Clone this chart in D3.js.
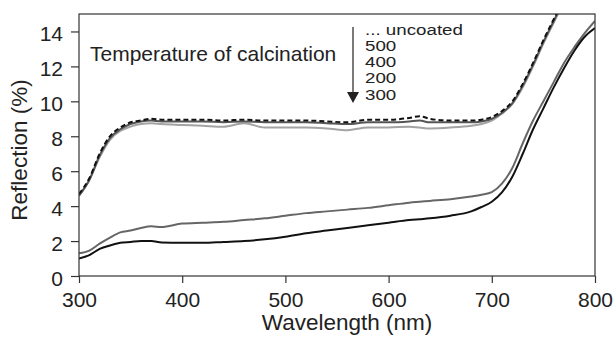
<!DOCTYPE html>
<html>
<head>
<meta charset="utf-8">
<script src="https://cdn.jsdelivr.net/npm/d3@7"></script>
<style>
  body { margin: 0; background: #fff; }
  svg { font-family: Arial, "Liberation Sans", sans-serif; }
  .axis text { font-size: 21px; fill: #222; }
  .axis line { stroke: #333; stroke-width: 1.2; }
  .line { fill: none; stroke-width: 2; stroke-linejoin: round; }
</style>
</head>
<body>
<svg id="chart" width="615" height="338"></svg>
<script>
// wavelength grid (nm)
const wavelengths = [300, 310, 320, 330, 340, 350, 360, 370, 380, 400, 420, 440, 460, 480, 500, 520, 540, 560, 580, 600, 620, 630, 640, 660, 680, 690, 700, 710, 720, 730, 740, 750, 760, 770, 780, 790, 800]

// reflection (%) per sample
const uncoated = [4.7, 5.6, 7.0, 8.0, 8.5, 8.8, 8.9, 9.0, 8.95, 8.95, 8.95, 8.9, 8.95, 8.9, 8.9, 8.9, 8.85, 8.8, 8.95, 8.95, 9.05, 9.15, 9.0, 8.9, 8.9, 8.95, 9.1, 9.45, 10.0, 11.0, 12.2, 13.5, 14.7, 15.9, 17.0, 18.0, 19.0]
const t500 = [4.6, 5.5, 6.9, 7.9, 8.4, 8.7, 8.85, 8.9, 8.85, 8.85, 8.85, 8.8, 8.85, 8.8, 8.8, 8.8, 8.75, 8.7, 8.8, 8.8, 8.85, 8.9, 8.8, 8.8, 8.8, 8.85, 9.0, 9.35, 9.9, 10.9, 12.1, 13.4, 14.6, 15.8, 16.9, 17.9, 18.9]
const t400 = [4.6, 5.5, 6.8, 7.8, 8.3, 8.55, 8.7, 8.75, 8.7, 8.65, 8.6, 8.55, 8.75, 8.5, 8.5, 8.5, 8.45, 8.35, 8.5, 8.5, 8.55, 8.5, 8.45, 8.5, 8.6, 8.7, 8.9, 9.3, 9.85, 10.8, 12.0, 13.3, 14.5, 15.7, 16.8, 17.8, 18.8]
const t200 = [1.3, 1.45, 1.85, 2.2, 2.5, 2.6, 2.75, 2.85, 2.8, 3.0, 3.05, 3.1, 3.2, 3.3, 3.45, 3.6, 3.7, 3.8, 3.9, 4.05, 4.2, 4.25, 4.3, 4.4, 4.55, 4.65, 4.8, 5.3, 6.2, 7.6, 8.9, 10.0, 11.1, 12.2, 13.1, 13.9, 14.6]
const t300 = [1.0, 1.2, 1.55, 1.75, 1.9, 1.95, 2.0, 2.0, 1.92, 1.9, 1.9, 1.95, 2.0, 2.1, 2.25, 2.45, 2.6, 2.75, 2.9, 3.05, 3.2, 3.25, 3.3, 3.45, 3.7, 3.95, 4.25, 4.8, 5.7, 7.0, 8.4, 9.6, 10.8, 11.9, 12.9, 13.7, 14.2]

const legendLabels = ["... uncoated", "500", "400", "200", "300"]
const xTicks = [300, 400, 500, 600, 700, 800]
const yTicks = [0, 2, 4, 6, 8, 10, 12, 14]

const series = [
  { values: t200, color: "#666", dash: null },
  { values: t300, color: "#111", dash: null },
  { values: t400, color: "#a3a3a3", dash: null },
  { values: t500, color: "#555", dash: null },
  { values: uncoated, color: "#111", dash: "5,3" }
]

const svg = d3.select("#chart")
const margin = { top: 14, right: 20, bottom: 62, left: 79 }
const width = 615, height = 338

const xScale = d3.scaleLinear()
  .domain([300, 800])
  .range([margin.left, width - margin.right])

const yScale = d3.scaleLinear()
  .domain([0, 15])
  .range([height - margin.bottom, margin.top])

svg.append("clipPath").attr("id", "plot-clip")
  .append("rect")
  .attr("x", margin.left)
  .attr("y", margin.top)
  .attr("width", width - margin.left - margin.right)
  .attr("height", height - margin.top - margin.bottom)

const line = d3.line()
  .x((d, i) => xScale(wavelengths[i]))
  .y(d => yScale(d))
  .curve(d3.curveMonotoneX)

const plot = svg.append("g").attr("clip-path", "url(#plot-clip)")
series.forEach(s => {
  plot.append("path")
    .datum(s.values)
    .attr("class", "line")
    .attr("stroke", s.color)
    .attr("stroke-dasharray", s.dash)
    .attr("d", line)
})

// frame
svg.append("rect")
  .attr("x", margin.left)
  .attr("y", margin.top)
  .attr("width", width - margin.left - margin.right)
  .attr("height", height - margin.top - margin.bottom)
  .attr("fill", "none")
  .attr("stroke", "#333")
  .attr("stroke-width", 1.2)

const xAxis = svg.append("g")
  .attr("class", "axis")
  .attr("transform", `translate(0, ${height - margin.bottom})`)
  .call(d3.axisBottom(xScale).tickValues(xTicks).tickSize(7).tickSizeOuter(0).tickPadding(9))
xAxis.select(".domain").remove()

const yAxis = svg.append("g")
  .attr("class", "axis")
  .attr("transform", `translate(${margin.left}, 0)`)
  .call(d3.axisLeft(yScale).tickValues(yTicks).tickSize(8).tickSizeOuter(0).tickPadding(8))
yAxis.select(".domain").remove()
yAxis.selectAll("text").attr("dy", "0.45em")

svg.append("text")
  .attr("x", 347)
  .attr("y", 330)
  .attr("text-anchor", "middle")
  .attr("font-size", 22.5)
  .attr("fill", "#222")
  .text("Wavelength (nm)")

svg.append("text")
  .attr("transform", `translate(27, 150) rotate(-90)`)
  .attr("text-anchor", "middle")
  .attr("font-size", 22.5)
  .attr("fill", "#222")
  .text("Reflection (%)")

// annotation
svg.append("text")
  .attr("x", 90)
  .attr("y", 61)
  .attr("font-size", 21)
  .attr("fill", "#222")
  .text("Temperature of calcination")

svg.append("line")
  .attr("x1", 353).attr("x2", 353)
  .attr("y1", 27).attr("y2", 94)
  .attr("stroke", "#222")
  .attr("stroke-width", 1.2)

svg.append("path")
  .attr("d", "M347,92 L359,92 L353,103 Z")
  .attr("fill", "#222")

svg.append("g")
  .selectAll("text")
  .data(legendLabels)
  .enter()
  .append("text")
  .attr("transform", (d, i) => `translate(365, ${34.5 + i * 16.3}) scale(1.25, 1)`)
  .attr("font-size", 15)
  .attr("fill", "#222")
  .text(d => d)
</script>
</body>
</html>
